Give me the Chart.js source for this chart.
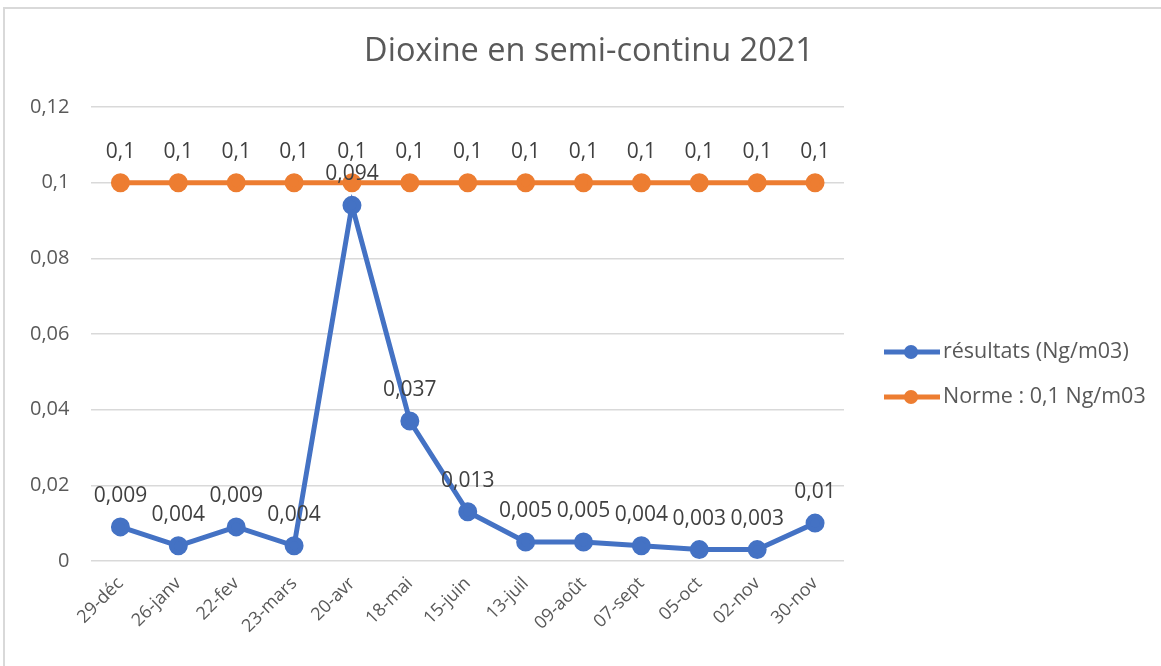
<!DOCTYPE html>
<html>
<head>
<meta charset="utf-8">
<script src="https://cdn.jsdelivr.net/npm/chart.js@4"></script>
<style>
  body { margin: 0; background: #fff; }
  #frame { position: absolute; left: 3px; top: 7px; width: 1170px; height: 680px; border: 2px solid #d9d9d9; box-sizing: border-box; }
  #wrap { position: absolute; left: 0; top: 0; width: 1161px; height: 666px; }
</style>
</head>
<body>
<div id="frame"></div>
<div id="wrap"><canvas id="myChart"></canvas></div>
<script>
const categories = ["29-déc", "26-janv", "22-fev", "23-mars", "20-avr", "18-mai", "15-juin", "13-juil", "09-août", "07-sept", "05-oct", "02-nov", "30-nov"];
const resultats = [0.009, 0.004, 0.009, 0.004, 0.094, 0.037, 0.013, 0.005, 0.005, 0.004, 0.003, 0.003, 0.01];
const norme = [0.1, 0.1, 0.1, 0.1, 0.1, 0.1, 0.1, 0.1, 0.1, 0.1, 0.1, 0.1, 0.1];
const seriesNames = ["résultats (Ng/m03)", "Norme : 0,1 Ng/m03"];
const yTicks = [0, 0.02, 0.04, 0.06, 0.08, 0.1, 0.12];
const chartTitle = "Dioxine en semi-continu 2021";

const FONT = "'Open Sans', sans-serif";
const frNum = (v) => String(+v.toFixed(3)).replace(".", ",");

// titre centré sur toute la largeur (pas seulement la zone du graphe)
const pageTitle = {
  id: "pageTitle",
  afterDraw(chart) {
    const ctx = chart.ctx;
    ctx.save();
    ctx.font = "32.5px " + FONT;
    ctx.fillStyle = "#595959";
    ctx.textAlign = "center";
    ctx.textBaseline = "middle";
    ctx.fillText(chartTitle, 589, 52);
    ctx.restore();
  },
};

// étiquettes de données au-dessus des points
const dataLabels = {
  id: "dataLabels",
  afterDatasetsDraw(chart) {
    const ctx = chart.ctx;
    ctx.save();
    ctx.font = "21px " + FONT;
    ctx.fillStyle = "#404040";
    ctx.textAlign = "center";
    ctx.textBaseline = "middle";
    chart.data.datasets.forEach((ds, i) => {
      chart.getDatasetMeta(i).data.forEach((pt, j) => {
        ctx.fillText(frNum(ds.data[j]), pt.x, pt.y - 31);
      });
    });
    ctx.restore();
  },
};

// légende à droite : trait + rond
const sideLegend = {
  id: "sideLegend",
  afterDraw(chart) {
    const ctx = chart.ctx;
    const x0 = chart.chartArea.right + 40;
    ctx.save();
    ctx.font = "21.5px " + FONT;
    ctx.textBaseline = "middle";
    chart.data.datasets.forEach((ds, i) => {
      const y = 352 + i * 45;
      ctx.strokeStyle = ds.borderColor;
      ctx.lineWidth = 5;
      ctx.beginPath();
      ctx.moveTo(x0, y);
      ctx.lineTo(x0 + 56, y);
      ctx.stroke();
      ctx.fillStyle = ds.borderColor;
      ctx.beginPath();
      ctx.arc(x0 + 27, y, 7, 0, Math.PI * 2);
      ctx.fill();
      ctx.fillStyle = "#595959";
      ctx.fillText(ds.label, x0 + 59, y);
    });
    ctx.restore();
  },
};

new Chart(document.getElementById("myChart"), {
  type: "line",
  data: {
    labels: categories,
    datasets: [
      {
        label: seriesNames[0],
        data: resultats,
        borderColor: "#4472c4",
        backgroundColor: "#4472c4",
        borderWidth: 5,
        pointRadius: 7,
        pointHoverRadius: 7,
        tension: 0,
      },
      {
        label: seriesNames[1],
        data: norme,
        borderColor: "#ed7d31",
        backgroundColor: "#ed7d31",
        borderWidth: 5,
        pointRadius: 7,
        pointHoverRadius: 7,
        tension: 0,
      },
    ],
  },
  options: {
    responsive: true,
    maintainAspectRatio: false,
    animation: false,
    layout: { padding: { top: 107, left: 8, right: 317, bottom: 25 } },
    scales: {
      x: {
        offset: true,
        grid: { display: false },
        border: { display: false },
        ticks: {
          color: "#595959",
          font: { family: FONT, size: 18 },
          maxRotation: 45,
          minRotation: 45,
          padding: 4,
        },
      },
      y: {
        min: 0,
        max: 0.12,
        afterBuildTicks: (axis) => { axis.ticks = yTicks.map((v) => ({ value: v })); },
        grid: { color: "#d9d9d9", lineWidth: 1.5, drawTicks: false },
        border: { display: false },
        ticks: {
          color: "#595959",
          font: { family: FONT, size: 20 },
          padding: 22,
          callback: (v) => frNum(v),
        },
      },
    },
    plugins: {
      legend: { display: false },
      tooltip: { enabled: false },
      title: { display: false },
    },
  },
  plugins: [pageTitle, dataLabels, sideLegend],
});
</script>
</body>
</html>
